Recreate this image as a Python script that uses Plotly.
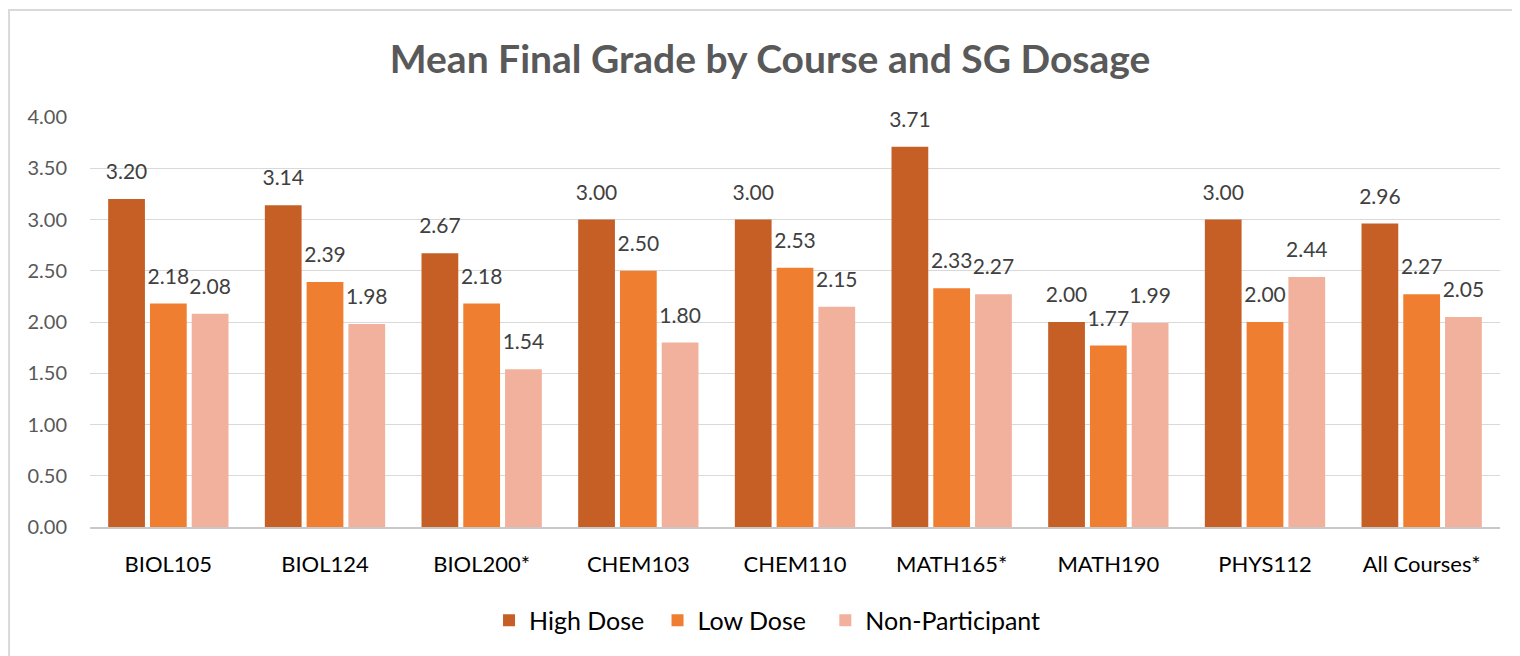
import plotly.graph_objects as go

courses = ["BIOL105", "BIOL124", "BIOL200*", "CHEM103", "CHEM110",
           "MATH165*", "MATH190", "PHYS112", "All Courses*"]
high_dose = [3.20, 3.14, 2.67, 3.00, 3.00, 3.71, 2.00, 3.00, 2.96]
low_dose = [2.18, 2.39, 2.18, 2.50, 2.53, 2.33, 1.77, 2.00, 2.27]
non_participant = [2.08, 1.98, 1.54, 1.80, 2.15, 2.27, 1.99, 2.44, 2.05]
y_ticks = [0, 0.5, 1.0, 1.5, 2.0, 2.5, 3.0, 3.5, 4.0]

series = [
    ("High Dose", high_dose, "#C65F26", "legend", 0.283),
    ("Low Dose", low_dose, "#F07E30", "legend2", 0.4025),
    ("Non-Participant", non_participant, "#F1B19C", "legend3", 0.5215),
]

FONT = "Lato, Calibri, Carlito, sans-serif"
GAP = 0.2

fig = go.Figure()
for name, vals, color, leg, _ in series:
    fig.add_trace(go.Bar(
        x=courses, y=vals, name=name, legend=leg,
        marker=dict(color=color, line=dict(width=0)),
        hoverinfo="x+y+name",
    ))
for name, vals, color, leg, _ in series:
    fig.add_trace(go.Scatter(
        x=courses, y=vals, name=name, showlegend=False,
        mode="markers+text",
        marker=dict(size=22, opacity=0, color=color),
        text=[f"{v:.2f}" for v in vals],
        textposition="top center",
        textfont=dict(family=FONT, size=21, color="#404040"),
        cliponaxis=False,
        hoverinfo="skip",
    ))

legend_common = dict(orientation="h", xanchor="left", y=-0.172, yanchor="top",
                     font=dict(family=FONT, size=25, color="#000000"),
                     itemwidth=30, bgcolor="rgba(0,0,0,0)")

fig.update_layout(
    width=1512, height=648,
    paper_bgcolor="white", plot_bgcolor="white",
    margin=dict(l=82, r=20, t=109, b=129),
    barmode="group", bargap=GAP, bargroupgap=0.12,
    scattermode="group", scattergap=GAP,
    title=dict(text="<b>Mean Final Grade by Course and SG Dosage</b>",
               x=0.504, xanchor="center", y=0.92, yanchor="middle",
               font=dict(family=FONT, size=39, color="#595959")),
    font=dict(family=FONT),
    legend=dict(x=series[0][4], **legend_common),
    legend2=dict(x=series[1][4], **legend_common),
    legend3=dict(x=series[2][4], **legend_common),
    showlegend=True,
)
fig.update_yaxes(range=[0, 4], tickvals=y_ticks, tickformat=".2f",
                 showgrid=True, gridcolor="#D9D9D9", gridwidth=1,
                 zeroline=False, showline=False, ticks="",
                 ticklabelstandoff=22,
                 tickfont=dict(family=FONT, size=20, color="#595959"))
fig.update_xaxes(showline=True, linecolor="#C8C8C8", linewidth=2, ticks="",
                 ticklabelstandoff=17,
                 tickfont=dict(family=FONT, size=22, color="#000000"))
fig.add_shape(type="rect", xref="paper", yref="paper",
              x0=-0.0574, x1=1.05, y0=-0.4, y1=1.261,
              line=dict(color="#D9D9D9", width=2), fillcolor="rgba(0,0,0,0)",
              layer="below")

fig.write_html("out.html")
